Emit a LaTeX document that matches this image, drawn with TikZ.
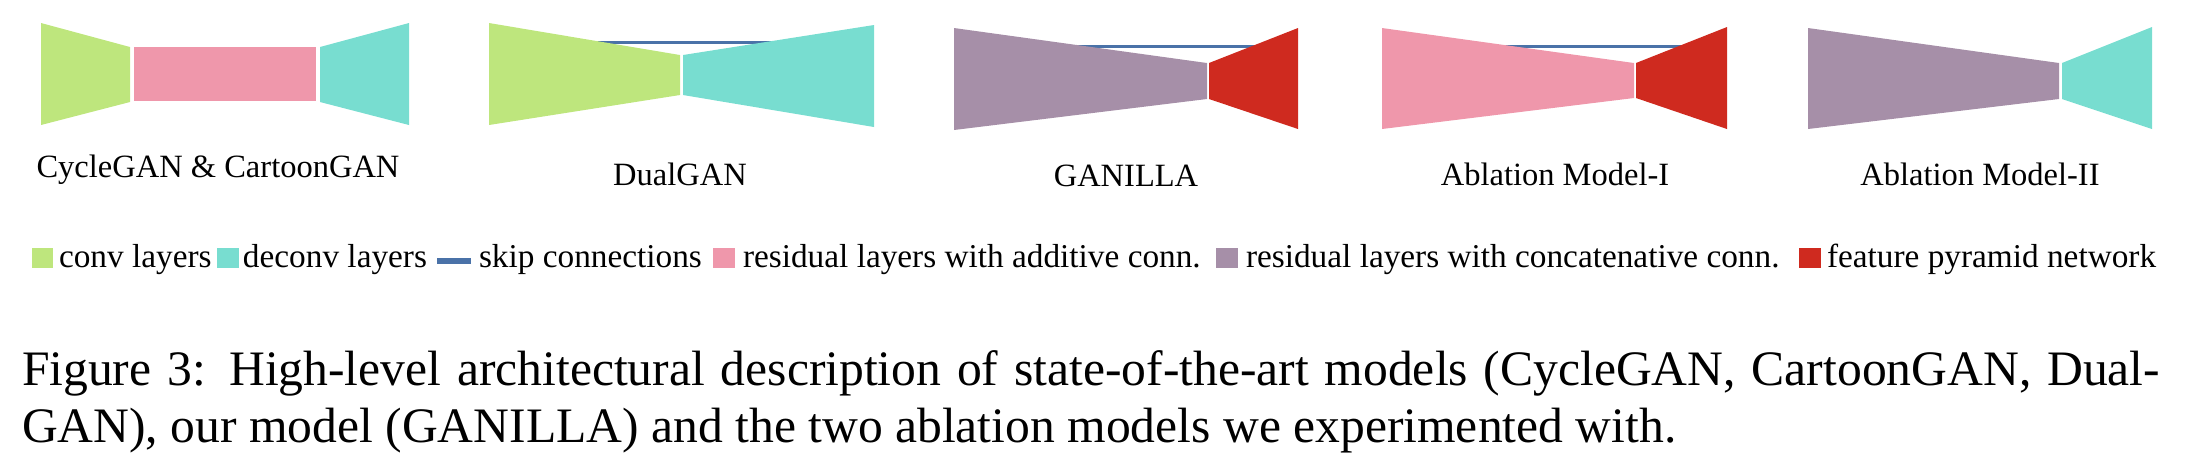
\documentclass[tikz,border=0pt]{standalone}
\usepackage{fontspec}
\setmainfont{Liberation Serif}
\usetikzlibrary{positioning}
\definecolor{convgreen}{HTML}{BEE67D}
\definecolor{deconvteal}{HTML}{78DDD0}
\definecolor{respink}{HTML}{EF97AB}
\definecolor{respurple}{HTML}{A68FA8}
\definecolor{fpnred}{HTML}{CF2A1F}
\definecolor{skipblue}{HTML}{4A72A8}

\begin{document}
\begin{tikzpicture}[x=0.2pt, y=-0.2pt,
        modelname/.style={anchor=base, inner sep=0pt, font=\fontsize{6.5}{7.8}\selectfont},
        legendtext/.style={anchor=base west, inner sep=0pt, font=\fontsize{6.66}{8}\selectfont},
        swatch/.style={rectangle, inner sep=0pt, minimum width=4.3pt, minimum height=4pt},
        skip/.style={draw=skipblue, line width=0.6pt}
    ]
    \useasboundingbox (0,0) rectangle (2190,470);

    % CycleGAN & CartoonGAN
    \fill[convgreen] (41,23) -- (130,47) -- (130,102) -- (41,125) -- cycle;
    \fill[respink] (134,47) rectangle (316,101);
    \fill[deconvteal] (320,47) -- (409,23) -- (409,125) -- (320,102) -- cycle;
    \node[modelname] (cycle) at (218,177) {CycleGAN \& CartoonGAN};

    % DualGAN
    \coordinate (dual-skipL) at (590,42);
    \coordinate (dual-skipR) at (780,42);
    \draw[skip] (dual-skipL) -- (dual-skipR);
    \fill[convgreen] (489,23) -- (680,55) -- (680,95) -- (489,125) -- cycle;
    \fill[deconvteal] (683,55) -- (874,25) -- (874,127) -- (683,95) -- cycle;
    \node[modelname] (dual) at (680,185) {DualGAN};

    % GANILLA
    \coordinate (ganilla-skipL) at (1065,46);
    \coordinate (ganilla-skipR) at (1262,46);
    \draw[skip] (ganilla-skipL) -- (ganilla-skipR);
    \fill[respurple] (954,28) -- (1207,63) -- (1207,99) -- (954,130) -- cycle;
    \fill[fpnred] (1209,63) -- (1298,28) -- (1298,129) -- (1209,99) -- cycle;
    \node[modelname] (ganilla) at (1126,186) {GANILLA};

    % Ablation Model-I
    \coordinate (abl1-skipL) at (1500,46);
    \coordinate (abl1-skipR) at (1688,46);
    \draw[skip] (abl1-skipL) -- (abl1-skipR);
    \fill[respink] (1382,28) -- (1634,63) -- (1634,98) -- (1382,129) -- cycle;
    \fill[fpnred] (1636,63) -- (1727,27) -- (1727,129) -- (1636,98) -- cycle;
    \node[modelname] (abl1) at (1555,185) {Ablation Model-I};

    % Ablation Model-II
    \fill[respurple] (1808,28) -- (2059,63) -- (2059,99) -- (1808,129) -- cycle;
    \fill[deconvteal] (2062,63) -- (2152,27) -- (2152,129) -- (2062,99) -- cycle;
    \node[modelname] (abl2) at (1980,185) {Ablation Model-II};

    % Legend
    \node[swatch, fill=convgreen] (sw-conv) at (42.5,258) {};
    \node[legendtext] (lg-conv) at (58,267) {conv layers};
    \node[swatch, fill=deconvteal] (sw-deconv) at (228,258) {};
    \node[legendtext] (lg-deconv) at (242,267) {deconv layers};
    \coordinate (sw-skipL) at (437,261);
    \coordinate (sw-skipR) at (471,261);
    \draw[skip, line width=1.2pt] (sw-skipL) -- (sw-skipR);
    \node[legendtext] (lg-skip) at (478,267) {skip connections};
    \node[swatch, fill=respink] (sw-add) at (724,258) {};
    \node[legendtext] (lg-add) at (742,267) {residual layers with additive conn.};
    \node[swatch, fill=respurple] (sw-cat) at (1227,258) {};
    \node[legendtext] (lg-cat) at (1245,267) {residual layers with concatenative conn.};
    \node[swatch, fill=fpnred] (sw-fpn) at (1810,258) {};
    \node[legendtext] (lg-fpn) at (1826,267) {feature pyramid network};

    % Caption
    \node[anchor=base west, inner sep=0pt, text width=427.6pt, align=justify,
        font=\fontsize{9.92}{11.4}\selectfont] (caption) at (21,385)
        {Figure 3: High-level architectural description of state-of-the-art models (CycleGAN, CartoonGAN, Dual-\linebreak GAN), our model (GANILLA) and the two ablation models we experimented with.};
\end{tikzpicture}
\end{document}
